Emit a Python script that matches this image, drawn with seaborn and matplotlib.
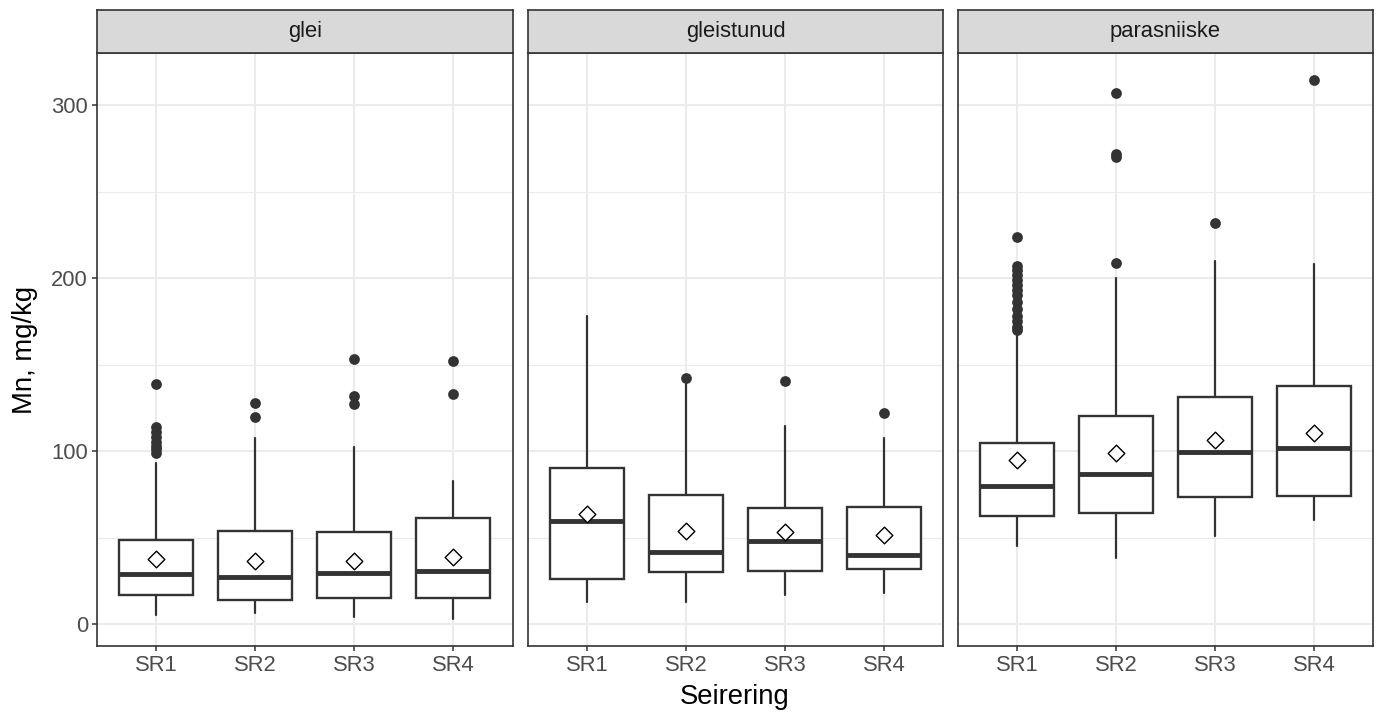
import matplotlib
matplotlib.use("Agg")
import matplotlib.pyplot as plt
from matplotlib.ticker import FixedLocator
import seaborn as sns
import pandas as pd

# facets and categories
groups = ["glei", "gleistunud", "parasniiske"]
rings = ["SR1", "SR2", "SR3", "SR4"]

# box statistics (Mn, mg/kg), one list per facet
q1 = {"glei": [16.8, 13.9, 15.2, 15.2],
      "gleistunud": [26.0, 30.0, 30.9, 31.8],
      "parasniiske": [62.2, 64.2, 73.5, 74.3]}
median = {"glei": [29.1, 27.0, 29.7, 30.8],
          "gleistunud": [59.7, 41.8, 48.2, 39.7],
          "parasniiske": [80.1, 86.7, 99.3, 101.8]}
q3 = {"glei": [48.6, 53.8, 53.4, 61.1],
      "gleistunud": [90.4, 74.6, 67.3, 67.6],
      "parasniiske": [104.5, 120.4, 131.1, 137.5]}
whisk_lo = {"glei": [5.2, 6.2, 3.9, 2.9],
            "gleistunud": [12.9, 12.9, 17.1, 18.1],
            "parasniiske": [45.4, 38.4, 50.8, 60.1]}
whisk_hi = {"glei": [92.9, 107.7, 102.5, 82.8],
            "gleistunud": [178.0, 139.0, 114.5, 107.3],
            "parasniiske": [167.9, 199.9, 209.8, 208.1]}
means = {"glei": [37.4, 36.6, 36.6, 38.9],
         "gleistunud": [63.4, 53.8, 53.0, 51.6],
         "parasniiske": [94.6, 98.7, 106.3, 110.7]}
outliers = {"glei": [[99, 101, 103, 105, 108, 111, 114, 139],
                     [120, 128],
                     [127, 132, 153],
                     [133, 152]],
            "gleistunud": [[], [142], [140.6], [122.2]],
            "parasniiske": [[170, 172, 175, 178, 182, 186, 190, 193, 196, 199, 202, 205, 207, 224],
                            [209, 270, 271.5, 307],
                            [232],
                            [314.5]]}

sns.set_theme(style="whitegrid")
plt.rcParams['font.family'] = ['Liberation Sans', 'DejaVu Sans']

W, H = 1378, 714
fig = plt.figure(figsize=(W / 100, H / 100), dpi=100)

lefts = [97, 527.7, 957.7]
pw = 415.5
ptop, pbot, stop = 53.3, 645.7, 10

dark = "#333333"
for k, g in enumerate(groups):
    ax = fig.add_axes([lefts[k] / W, 1 - pbot / H, pw / W, (pbot - ptop) / H])
    ax.set_facecolor("white")
    ax.set_axisbelow(True)

    stats = []
    for i in range(len(rings)):
        stats.append(dict(med=median[g][i], q1=q1[g][i], q3=q3[g][i],
                          whislo=whisk_lo[g][i], whishi=whisk_hi[g][i], fliers=[]))
    ax.bxp(stats, positions=range(len(rings)), widths=0.75, showfliers=False,
           showcaps=False, patch_artist=True,
           boxprops=dict(facecolor="white", edgecolor=dark, linewidth=1.7),
           whiskerprops=dict(color=dark, linewidth=1.6),
           medianprops=dict(color=dark, linewidth=3.5, solid_capstyle="butt"))

    # outliers
    out_df = pd.DataFrame([(i, v) for i in range(len(rings)) for v in outliers[g][i]],
                          columns=["pos", "value"])
    if len(out_df):
        sns.scatterplot(data=out_df, x="pos", y="value", color=dark, s=60,
                        linewidth=0, ax=ax, zorder=4)
    # means
    mean_df = pd.DataFrame({"pos": range(len(rings)), "value": means[g]})
    sns.scatterplot(data=mean_df, x="pos", y="value", marker="D", color="white",
                    edgecolor="black", linewidth=1.0, s=72, ax=ax, zorder=5)

    ax.set_xlim(-0.6, 3.6)
    ax.set_ylim(-12.5, 330)
    ax.set_xticks(range(len(rings)))
    ax.set_xticklabels(rings)
    ax.set_yticks([0, 100, 200, 300])
    ax.yaxis.set_minor_locator(FixedLocator([50, 150, 250]))
    ax.grid(which="major", color="#EBEBEB", linewidth=1.5)
    ax.grid(which="minor", axis="y", color="#EBEBEB", linewidth=0.8)
    ax.tick_params(which="minor", length=0)
    ax.tick_params(which="major", length=3.5, width=1.1, color=dark,
                   labelsize=15.8, labelcolor="#4D4D4D", pad=3)
    ax.tick_params(axis="x", bottom=True)
    if k == 0:
        ax.tick_params(axis="y", left=True)
    else:
        ax.tick_params(axis="y", left=False, labelleft=False)
    ax.set_xlabel("")
    ax.set_ylabel("")
    for sp in ax.spines.values():
        sp.set_color(dark)
        sp.set_linewidth(1.2)
        sp.set_visible(True)

    # facet strip
    sax = fig.add_axes([lefts[k] / W, 1 - ptop / H, pw / W, (ptop - stop) / H])
    sax.set_facecolor("#D9D9D9")
    sax.set_xticks([])
    sax.set_yticks([])
    sax.grid(False)
    for sp in sax.spines.values():
        sp.set_color(dark)
        sp.set_linewidth(1.2)
        sp.set_visible(True)
    sax.text(0.5, 0.5, g, ha="center", va="center", fontsize=15.8,
             color="#1A1A1A", transform=sax.transAxes)

fig.text(25 / W, 1 - 349.5 / H, "Mn, mg/kg", rotation=90, ha="center",
         va="center", fontsize=19.8, color="black")
fig.text((97 + 1373) / 2 / W, 1 - 697 / H, "Seirering", ha="center",
         va="center", fontsize=19.8, color="black")

fig.savefig("out.png", dpi=100)
